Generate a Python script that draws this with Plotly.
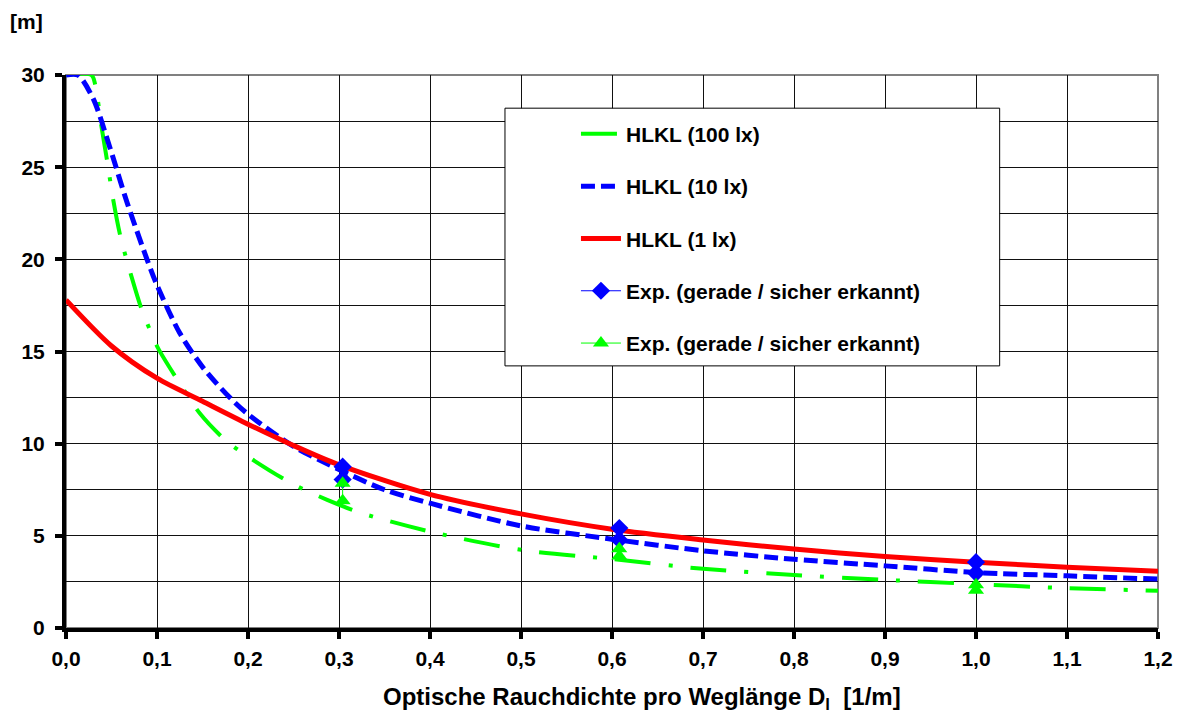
import plotly.graph_objects as go

# --- data ---
x_1lx = [0, 0.05, 0.1, 0.15, 0.2, 0.25, 0.3, 0.4, 0.5, 0.6, 0.7, 0.8, 0.9, 1.0, 1.1, 1.2]
y_1lx = [17.8, 15.3, 13.55, 12.3, 11.06, 9.9, 8.85, 7.25, 6.19, 5.36, 4.78, 4.28, 3.88, 3.57, 3.3, 3.08]

x_10lx = [0, 0.013, 0.03, 0.048, 0.067, 0.089, 0.1, 0.125, 0.151, 0.18, 0.2, 0.25, 0.3, 0.35,
          0.4, 0.5, 0.6, 0.7, 0.8, 0.9, 1.0, 1.1, 1.2]
y_10lx = [30, 30, 28.7, 26.1, 23.1, 20.0, 18.6, 16.0, 14.1, 12.5, 11.6, 9.85, 8.6, 7.5,
          6.77, 5.54, 4.82, 4.19, 3.73, 3.37, 3.01, 2.83, 2.65]

x_100lx = [0, 0.028, 0.032, 0.039, 0.045, 0.052, 0.06, 0.072, 0.083, 0.092, 0.101, 0.122, 0.147, 0.175,
           0.2, 0.246, 0.287, 0.325, 0.4, 0.5, 0.6, 0.7, 0.8, 0.9, 1.0, 1.1, 1.2]
y_100lx = [30, 30, 29.5, 27.2, 25.4, 23.2, 21.2, 19.06, 17.3, 16.2, 15.2, 13.5, 11.65, 10.2,
           9.3, 7.9, 6.95, 6.23, 5.23, 4.24, 3.74, 3.21, 2.88, 2.61, 2.38, 2.16, 2.02]

exp_x = [0.304, 0.608, 1.0]
exp_blue_hi = [8.75, 5.42, 3.57]
exp_blue_lo = [8.05, 4.78, 2.98]
exp_green_hi = [7.85, 4.3, 2.35]
exp_green_lo = [6.9, 3.9, 2.05]

x_ticks = [0.0, 0.1, 0.2, 0.3, 0.4, 0.5, 0.6, 0.7, 0.8, 0.9, 1.0, 1.1, 1.2]
y_ticks = [0, 5, 10, 15, 20, 25, 30]


def pairs(xs, hi, lo):
    px, py = [], []
    for x, a, b in zip(xs, hi, lo):
        px += [x, x, None]
        py += [a, b, None]
    return px, py


FONT = "Liberation Sans, Arial, sans-serif"

fig = go.Figure()
fig.add_trace(go.Scatter(x=x_100lx, y=y_100lx, mode="lines", name="HLKL (100 lx)", legendgroup="a",
                         line=dict(color="#00FF00", width=4, dash="36px,18px,4px,18px",
                                   shape="spline", smoothing=0.8)))
fig.add_trace(go.Scatter(x=x_10lx, y=y_10lx, mode="lines", name="HLKL (10 lx)", legendgroup="b",
                         line=dict(color="#0000FF", width=5, dash="14px,6px",
                                   shape="spline", smoothing=0.8)))
fig.add_trace(go.Scatter(x=x_1lx, y=y_1lx, mode="lines", name="HLKL (1 lx)", legendgroup="c",
                         line=dict(color="#FF0000", width=5, shape="spline", smoothing=0.8)))
bx, by = pairs(exp_x, exp_blue_hi, exp_blue_lo)
fig.add_trace(go.Scatter(x=bx, y=by, mode="lines+markers", name="Exp. (gerade / sicher erkannt)", legendgroup="d",
                         line=dict(color="#0000FF", width=1),
                         marker=dict(symbol="diamond", size=14, color="#0000FF")))
gx, gy = pairs(exp_x, exp_green_hi, exp_green_lo)
fig.add_trace(go.Scatter(x=gx, y=gy, mode="lines+markers", name="Exp. (gerade / sicher erkannt)", legendgroup="e",
                         line=dict(color="#00FF00", width=1),
                         marker=dict(symbol="triangle-up", size=14, color="#00FF00")))

fig.update_layout(
    width=1175, height=707,
    margin=dict(l=58, r=25, t=67, b=87),
    paper_bgcolor="white", plot_bgcolor="white",
    separators=",.",
    font=dict(family=FONT, size=21, color="black", weight="bold"),
    showlegend=True,
    legend=dict(x=0.467, y=0.93, xanchor="left", yanchor="top",
                bgcolor="rgba(0,0,0,0)", borderwidth=0,
                font=dict(family=FONT, size=21, color="black", weight="bold"),
                tracegroupgap=22, itemwidth=40),
    shapes=[
        dict(type="rect", xref="paper", yref="paper", x0=0, x1=1, y0=0, y1=1,
             line=dict(color="#808080", width=2), layer="below"),
        dict(type="rect", xref="paper", yref="paper", x0=0.402, x1=0.855, y0=0.474, y1=0.940,
             line=dict(color="black", width=1), fillcolor="white", layer="above"),
    ],
    annotations=[
        dict(text="[m]", xref="paper", yref="paper", x=-0.036, y=1.096, xanchor="center", yanchor="middle",
             showarrow=False, font=dict(family=FONT, size=21, color="black", weight="bold")),
        dict(text="Optische Rauchdichte pro Weglänge D<sub>l</sub>  [1/m]", xref="paper", yref="paper",
             x=0.5275, y=-0.128, xanchor="center", yanchor="middle", showarrow=False,
             font=dict(family=FONT, size=24, color="black", weight="bold")),
    ],
)

fig.update_xaxes(
    range=[0, 1.2], tickvals=x_ticks, tickformat=".1f", automargin=False,
    showgrid=True, gridcolor="#111111", gridwidth=1,
    showline=True, linecolor="black", linewidth=4,
    ticks="outside", ticklen=7, tickwidth=4, tickcolor="black",
    zeroline=False, ticklabelstandoff=2,
    tickfont=dict(family=FONT, size=21, color="black", weight="bold"),
)
fig.update_yaxes(
    range=[0, 30], tickvals=y_ticks, automargin=False,
    showgrid=True, gridcolor="#111111", gridwidth=1,
    minor=dict(dtick=2.5, showgrid=True, gridcolor="#111111", gridwidth=1, ticks=""),
    showline=True, linecolor="black", linewidth=4,
    ticks="outside", ticklen=7, tickwidth=4, tickcolor="black",
    zeroline=False, ticklabelstandoff=6,
    tickfont=dict(family=FONT, size=21, color="black", weight="bold"),
)

fig.write_html("out.html")
